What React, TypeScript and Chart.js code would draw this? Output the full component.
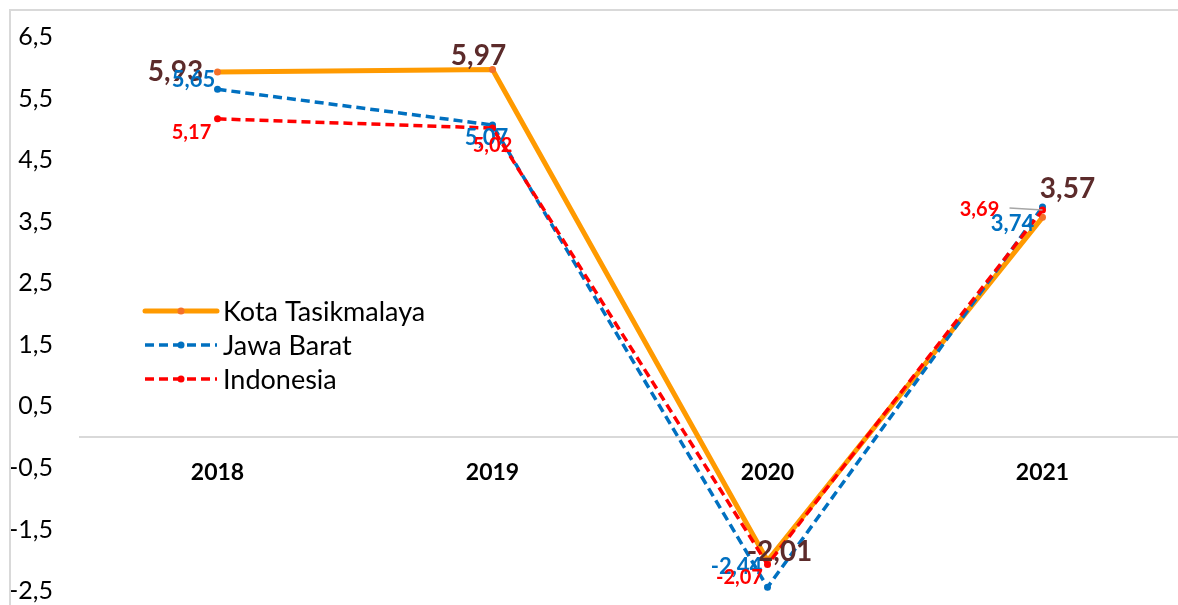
import React, { useEffect, useRef } from "react";
import { Chart, registerables } from "chart.js";

Chart.register(...registerables);

const YEARS = ["2018", "2019", "2020", "2021"];
const SERIES_NAMES = ["Kota Tasikmalaya", "Jawa Barat", "Indonesia"];
const KOTA_TASIKMALAYA = [5.93, 5.97, -2.01, 3.57];
const JAWA_BARAT = [5.65, 5.07, -2.44, 3.74];
const INDONESIA = [5.17, 5.02, -2.07, 3.69];
const Y_TICKS = [-2.5, -1.5, -0.5, 0.5, 1.5, 2.5, 3.5, 4.5, 5.5, 6.5];

const FONT = "Lato, 'Open Sans', sans-serif";
const SHIFT = 5; // canvas is drawn 5px above the page top

const LABEL_STYLES = [
  { color: "#5C2B2B", size: 28, offsets: [[-42, 0], [-14, -14], [12, -9], [25, -28]] },
  { color: "#0070C0", size: 22, offsets: [[-24, -9], [-6, 13], [-31, -20], [-30, 17]] },
  { color: "#FF0000", size: 20, offsets: [[-26, 14], [0, 17], [-28, 13], [-63, 0]] },
];

const fmt = (v: number) => String(v).replace(".", ",");

const dataLabels = {
  id: "dataLabels",
  afterDatasetsDraw(chart: any) {
    const ctx = chart.ctx;
    ctx.save();
    const mInd = chart.getDatasetMeta(2);
    const p = mInd.data[3];
    ctx.strokeStyle = "#A6A6A6";
    ctx.lineWidth = 1.5;
    ctx.beginPath();
    ctx.moveTo(p.x - 33, p.y - 2);
    ctx.lineTo(p.x, p.y);
    ctx.stroke();
    chart.data.datasets.forEach((ds: any, di: number) => {
      const meta = chart.getDatasetMeta(di);
      const st = LABEL_STYLES[di];
      ctx.fillStyle = st.color;
      ctx.font = `bold ${st.size}px ${FONT}`;
      ctx.textAlign = "center";
      ctx.textBaseline = "middle";
      meta.data.forEach((pt: any, i: number) => {
        const [dx, dy] = st.offsets[i];
        ctx.fillText(fmt(ds.data[i]), pt.x + dx, pt.y + dy);
      });
    });
    ctx.restore();
  },
};

const legendPlugin = {
  id: "customLegend",
  afterDraw(chart: any) {
    const ctx = chart.ctx;
    ctx.save();
    const x0 = 145, x1 = 217, tx = 223;
    const ys = [311 + SHIFT, 345 + SHIFT, 379 + SHIFT];
    chart.data.datasets.forEach((ds: any, i: number) => {
      const y = ys[i];
      ctx.strokeStyle = ds.borderColor;
      ctx.lineWidth = ds.borderWidth;
      ctx.lineCap = i === 0 ? "round" : "butt";
      ctx.setLineDash(ds.borderDash || []);
      ctx.beginPath();
      ctx.moveTo(x0, y);
      ctx.lineTo(x1, y);
      ctx.stroke();
      ctx.setLineDash([]);
      ctx.fillStyle = ds.pointBackgroundColor;
      ctx.beginPath();
      ctx.arc((x0 + x1) / 2, y, 3.5, 0, Math.PI * 2);
      ctx.fill();
      ctx.fillStyle = "#000";
      ctx.font = `27px ${FONT}`;
      ctx.textAlign = "left";
      ctx.textBaseline = "middle";
      ctx.fillText(SERIES_NAMES[i], tx, y + 1);
    });
    ctx.restore();
  },
};

export default function App() {
  const ref = useRef<HTMLCanvasElement | null>(null);
  useEffect(() => {
    if (!ref.current) return;
    const chart = new Chart(ref.current, {
      type: "line",
      data: {
        labels: YEARS,
        datasets: [
          {
            label: SERIES_NAMES[0],
            data: KOTA_TASIKMALAYA,
            borderColor: "#FF9A00",
            borderWidth: 5,
            pointBackgroundColor: "#F4702A",
            pointBorderWidth: 0,
            pointRadius: 3.5,
            tension: 0,
            clip: false,
            order: 3,
          } as any,
          {
            label: SERIES_NAMES[1],
            data: JAWA_BARAT,
            borderColor: "#0070C0",
            borderWidth: 3.5,
            borderDash: [9, 5],
            pointBackgroundColor: "#0070C0",
            pointBorderWidth: 0,
            pointRadius: 3.5,
            tension: 0,
            clip: false,
            order: 2,
          },
          {
            label: SERIES_NAMES[2],
            data: INDONESIA,
            borderColor: "#FF0000",
            borderWidth: 3.5,
            borderDash: [9, 5],
            pointBackgroundColor: "#FF0000",
            pointBorderWidth: 0,
            pointRadius: 3.5,
            tension: 0,
            clip: false,
            order: 1,
          },
        ],
      },
      options: {
        animation: false,
        responsive: false,
        maintainAspectRatio: false,
        devicePixelRatio: 1,
        layout: { padding: { left: 0, top: 31, right: 20, bottom: 0 } },
        plugins: { legend: { display: false }, tooltip: { enabled: false } },
        scales: {
          x: {
            type: "category",
            offset: true,
            position: { y: 0 } as any,
            grid: { display: false, drawTicks: false },
            border: { display: true, color: "#D9D9D9", width: 2 },
            afterFit: (scale: any) => {
              scale.height = 0;
            },
            ticks: {
              padding: 22,
              color: "#000",
              font: { family: FONT, size: 23, weight: "bold" },
            },
          },
          y: {
            min: -2.5,
            max: 6.5,
            grid: { display: false, drawTicks: false },
            border: { display: false },
            afterBuildTicks: (scale: any) => {
              scale.ticks = Y_TICKS.map((v) => ({ value: v }));
            },
            afterFit: (scale: any) => {
              scale.width = 80;
            },
            ticks: {
              padding: 27,
              color: "#000",
              font: { family: FONT, size: 25 },
              callback: (v: any) => fmt(Number(v)),
            },
          },
        },
      },
      plugins: [dataLabels, legendPlugin],
    });
    return () => chart.destroy();
  }, []);
  return (
    <div style={{ position: "fixed", left: 0, top: 0, width: 1178, height: 605, overflow: "hidden", background: "#fff" }}>
      <canvas
        ref={ref}
        width={1200}
        height={638}
        style={{ display: "block", position: "absolute", left: 0, top: -SHIFT }}
      />
      <div
        style={{
          position: "absolute",
          left: 9,
          top: 9,
          width: 1200,
          height: 700,
          borderLeft: "2px solid #D9D9D9",
          borderTop: "2px solid #D9D9D9",
          pointerEvents: "none",
        }}
      />
    </div>
  );
}
